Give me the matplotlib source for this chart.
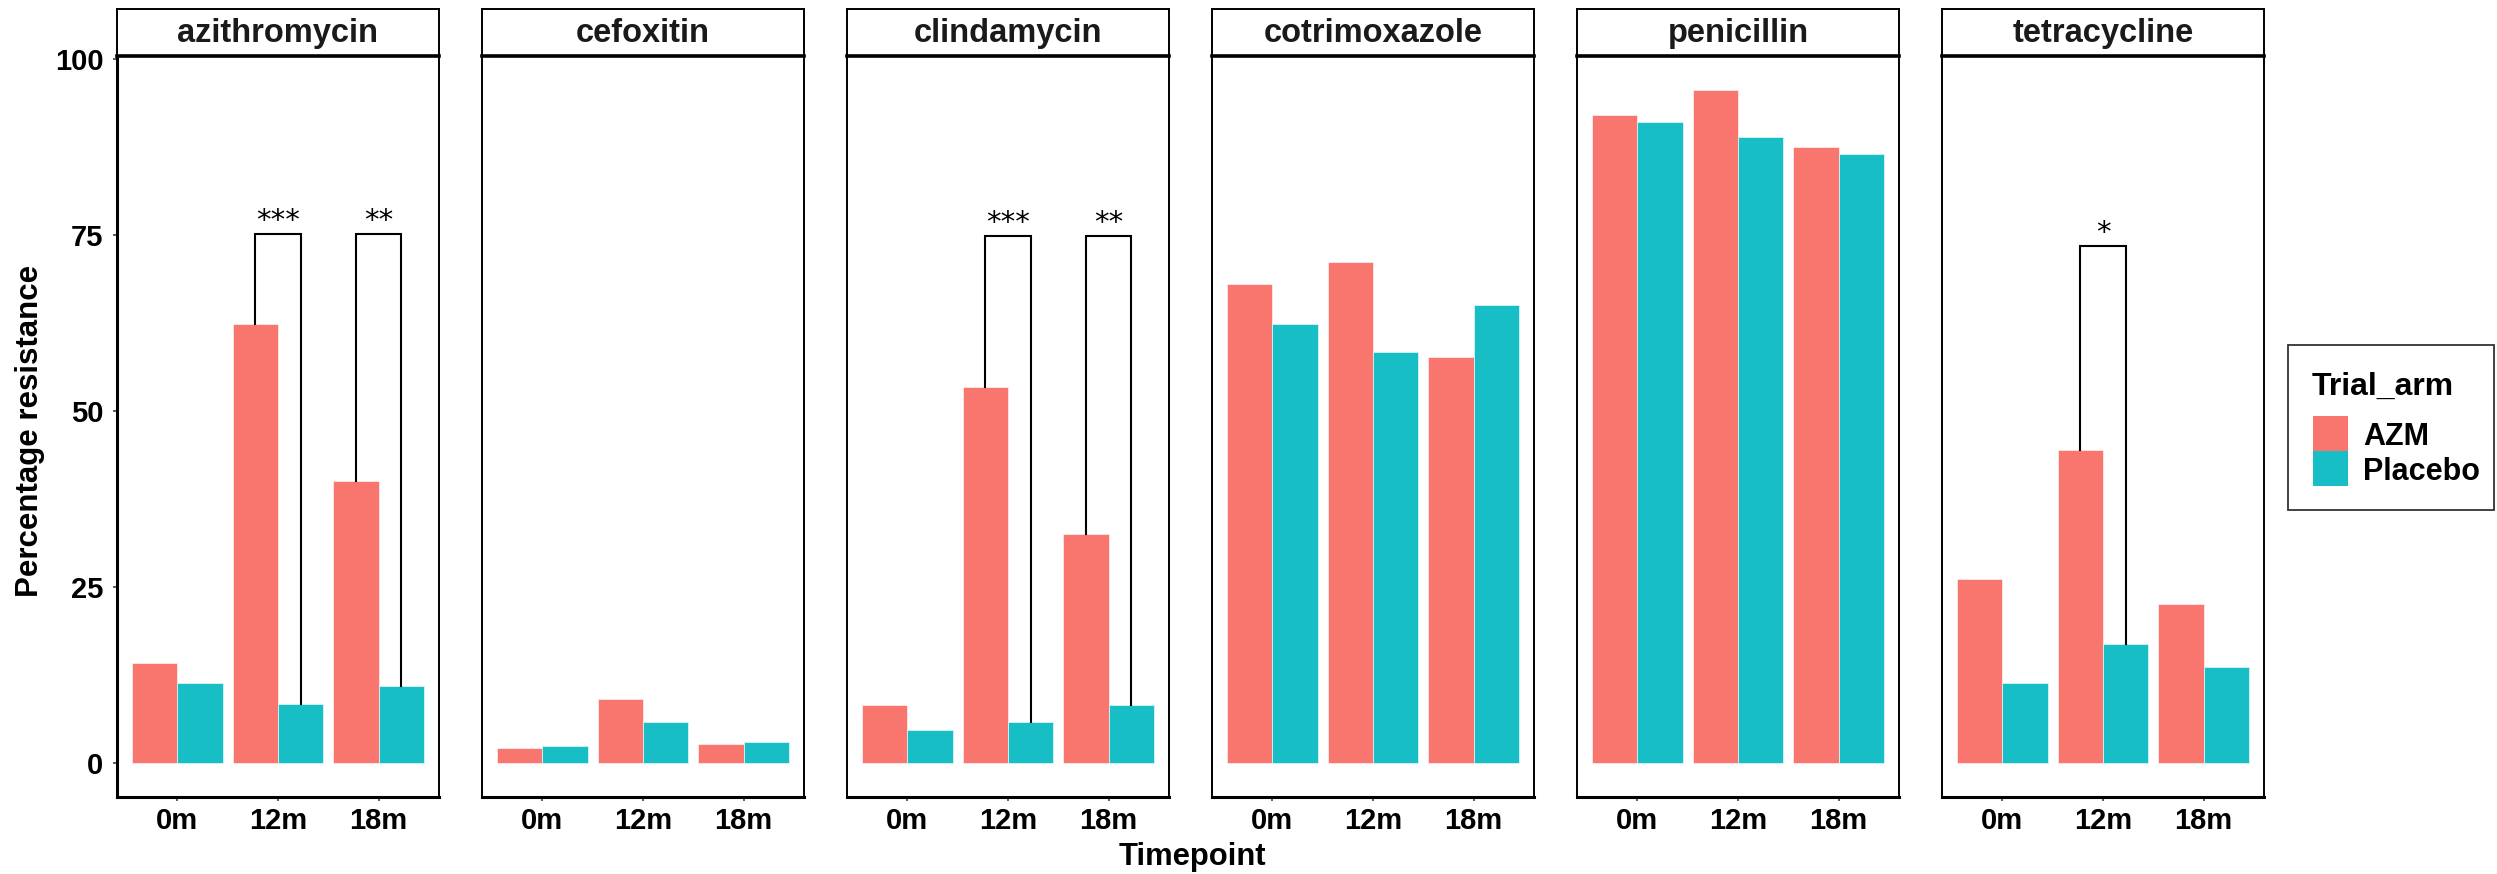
import matplotlib
matplotlib.use("Agg")
import matplotlib.pyplot as plt
from matplotlib.patches import Rectangle
import numpy as np

plt.rcParams['font.family'] = ['Liberation Sans', 'DejaVu Sans']

antibiotics = ["azithromycin", "cefoxitin", "clindamycin", "cotrimoxazole", "penicillin", "tetracycline"]
timepoints = ["0m", "12m", "18m"]
arms = ["AZM", "Placebo"]
colors = {"AZM": "#F8766D", "Placebo": "#18BEC5"}

azm_values = {
    "azithromycin": [14.2, 62.3, 40.1],
    "cefoxitin": [2.1, 9.1, 2.7],
    "clindamycin": [8.2, 53.4, 32.6],
    "cotrimoxazole": [68.0, 71.1, 57.6],
    "penicillin": [92.0, 95.6, 87.5],
    "tetracycline": [26.1, 44.5, 22.6],
}
placebo_values = {
    "azithromycin": [11.4, 8.4, 11.0],
    "cefoxitin": [2.4, 5.9, 3.0],
    "clindamycin": [4.7, 5.8, 8.3],
    "cotrimoxazole": [62.3, 58.4, 65.0],
    "penicillin": [91.1, 88.9, 86.5],
    "tetracycline": [11.4, 16.9, 13.7],
}
# significance brackets: (antibiotic, timepoint, bracket height, label)
brackets = [
    ("azithromycin", "12m", 75.2, "***"),
    ("azithromycin", "18m", 75.2, "**"),
    ("clindamycin", "12m", 74.8, "***"),
    ("clindamycin", "18m", 74.8, "**"),
    ("tetracycline", "12m", 73.4, "*"),
]
yticks = [0, 25, 50, 75, 100]

W, H = 2497, 874
fig = plt.figure(figsize=(W / 100, H / 100), dpi=100)

panel_left0 = 117
panel_w = 322
panel_gap = 365
panel_top = 56
panel_bot = 797
strip_top = 9

bar_w = 0.45
x = np.arange(1, len(timepoints) + 1)

for i, ab in enumerate(antibiotics):
    left = panel_left0 + i * panel_gap
    ax = fig.add_axes([left / W, 1 - panel_bot / H, panel_w / W, (panel_bot - panel_top) / H])
    a = azm_values[ab]
    p = placebo_values[ab]
    ax.bar(x - bar_w / 2, a, width=bar_w, color=colors["AZM"], edgecolor="#fde9e7", linewidth=0.6)
    ax.bar(x + bar_w / 2, p, width=bar_w, color=colors["Placebo"], edgecolor="#d8f3f4", linewidth=0.6)
    for (bab, tp, h, lab) in brackets:
        if bab != ab:
            continue
        j = timepoints.index(tp)
        xl = x[j] - bar_w / 2
        xr = x[j] + bar_w / 2
        ax.plot([xl, xl, xr, xr], [a[j], h, h, p[j]], color="black", lw=1.5,
                solid_joinstyle="miter", zorder=5)
        ax.text(x[j], h + 0.7, lab, ha="center", va="baseline", fontsize=21,
                family=["DejaVu Sans"])
    ax.set_xlim(0.4, 3.6)
    ax.set_ylim(-4.8, 100.4)
    ax.set_xticks(x)
    ax.set_xticklabels(timepoints, fontsize=21, fontweight="bold")
    ax.set_yticks(yticks)
    if i == 0:
        ax.set_yticklabels([str(v) for v in yticks], fontsize=21, fontweight="bold")
        ax.tick_params(axis="y", length=3.2, width=1.1, direction="out", pad=6.5, color="#333333")
        ax.spines["left"].set_linewidth(2.2)
    else:
        ax.tick_params(axis="y", left=False, labelleft=False)
        ax.spines["left"].set_linewidth(1.4)
    ax.tick_params(axis="x", length=3.2, width=1.1, direction="out", pad=4, color="#333333")
    for s in ["top", "right"]:
        ax.spines[s].set_linewidth(1.4)
    ax.spines["bottom"].set_linewidth(2.2)
    for s in ax.spines.values():
        s.set_color("black")
    # strip
    sax = fig.add_axes([left / W, 1 - panel_top / H, panel_w / W, (panel_top - strip_top) / H])
    sax.set_xlim(0, 1)
    sax.set_ylim(0, 1)
    sax.set_xticks([])
    sax.set_yticks([])
    for s in sax.spines.values():
        s.set_linewidth(1.4)
        s.set_color("black")
    sax.spines["bottom"].set_linewidth(2.6)
    sax.text(0.5, 0.48, ab, ha="center", va="center", fontsize=23.5, fontweight="bold",
             color="#1a1a1a")

fig.text(30 / W, 1 - 431 / H, "Percentage resistance",
         rotation=90, ha="center", va="center", fontsize=22.5, fontweight="bold")
fig.text(1192 / W, 1 - 857 / H, "Timepoint",
         ha="center", va="center", fontsize=22.3, fontweight="bold")

# legend (drawn in figure pixel coordinates)
def fx(px):
    return px / W

def fy(py):
    return 1 - py / H

fig.patches.append(Rectangle((fx(2288), fy(510)), fx(2494) - fx(2288), fy(345) - fy(510),
                             transform=fig.transFigure, facecolor="white", edgecolor="#333333",
                             linewidth=1.3, zorder=1))
fig.text(fx(2312), fy(395), "Trial_arm", ha="left", va="baseline", fontsize=23,
         fontweight="bold")
key = 35
for k, arm in enumerate(arms):
    top = 416 + k * key
    fig.patches.append(Rectangle((fx(2313), fy(top + key)), fx(2313 + key) - fx(2313),
                                 fy(top) - fy(top + key), transform=fig.transFigure,
                                 facecolor=colors[arm], edgecolor="none", zorder=2))
    fig.text(fx(2363), fy(top + key / 2), arm, ha="left", va="center_baseline", fontsize=22,
             fontweight="bold")

fig.savefig("out.png", dpi=100)
